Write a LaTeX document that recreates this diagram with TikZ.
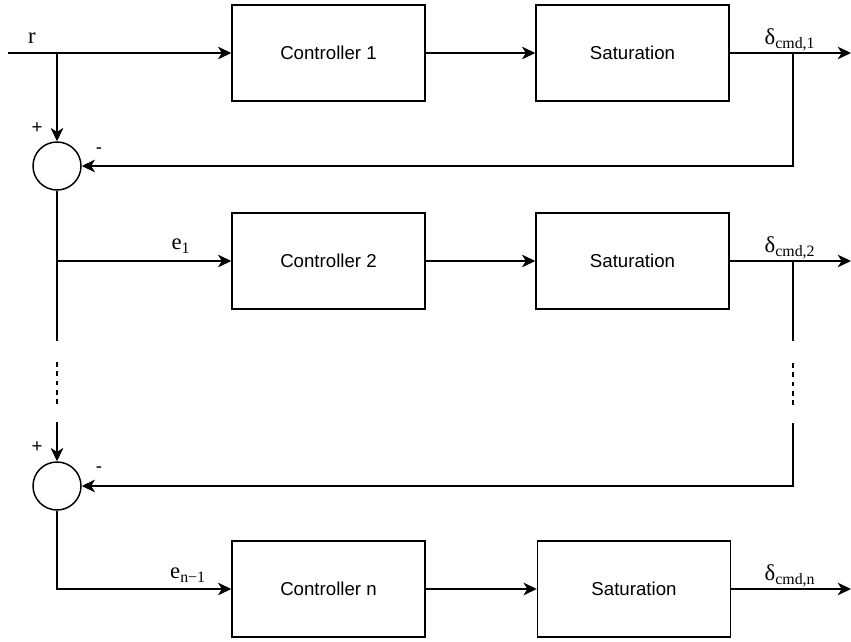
\documentclass[tikz,border=0pt]{standalone}
\usepackage{fontspec}
\setmainfont{Liberation Sans}
\newfontfamily\lblfont{Liberation Serif}
\usetikzlibrary{arrows.meta}

\begin{document}
\begin{tikzpicture}[x=0.75pt,y=-0.75pt,line width=1.1pt,
		>={Stealth[length=10pt,width=9.5pt,inset=3pt]},font=\fontsize{14}{16}\selectfont]
		\tikzset{block/.style={draw,minimum width=144.75pt,minimum height=72pt,inner sep=0pt},
			sum/.style={draw,circle,minimum size=36pt,inner sep=0pt},
			sig/.style={font=\lblfont\fontsize{17}{19}\selectfont,inner sep=1pt},
			sgn/.style={font=\fontsize{14}{16}\selectfont,inner sep=0pt},
			gap/.style={dash pattern=on 3.5pt off 3.5pt}}
		\useasboundingbox (0,0) rectangle (851,642);
		
		\node[block] (ctrlA) at (328.5,53) {Controller 1};
		\node[block] (satA)  at (632.5,53) {Saturation};
		\node[block] (ctrlB) at (328.5,261) {Controller 2};
		\node[block] (satB)  at (632.5,261) {Saturation};
		\node[block] (ctrlN) at (328.5,589) {Controller n};
		\node[block] (satN)  at (634,589) {Saturation};
		\node[sum] (sumA) at (57,166) {};
		\node[sum] (sumB) at (57,486) {};
		
		\coordinate (rin) at (8,53);
		\coordinate (brA) at (57,53);
		\coordinate (fbA) at (793,53);
		\coordinate (outA) at (851,53);
		\coordinate (brB) at (57,261);
		\coordinate (fbB) at (793,261);
		\coordinate (outB) at (851,261);
		\coordinate (outN) at (851,589);
		\coordinate (lA) at (57,341);
		\coordinate (lB) at (57,362);
		\coordinate (lC) at (57,406);
		\coordinate (lD) at (57,422);
		\coordinate (rA) at (793,341);
		\coordinate (rB) at (793,363);
		\coordinate (rC) at (793,407);
		\coordinate (rD) at (793,423);
		
		% top row
		\draw[->] (rin) -- (ctrlA);
		\draw[->] (ctrlA) -- (satA);
		\draw[->] (satA) -- (outA);
		\draw[->] (brA) -- (sumA);
		\draw[->] (fbA) |- (sumA);
		\node[sig] at (32,38) {r};
		\node[sig] at (790,40) {δ\textsubscript{cmd,1}};
		\node[sgn] at (37,128) {+};
		\node[sgn] at (99,151) {-};
		
		% second row
		\draw (sumA) -- (lA);
		\draw[->] (brB) -- (ctrlB);
		\draw[->] (ctrlB) -- (satB);
		\draw[->] (satB) -- (outB);
		\draw (fbB) -- (rA);
		\node[sig] at (181,246) {e\textsubscript{1}};
		\node[sig] at (790,248) {δ\textsubscript{cmd,2}};
		
		% dotted part
		\draw[gap] (lB) -- (lC);
		\draw[gap] (rB) -- (rC);
		\draw[->] (lD) -- (sumB);
		\draw[->] (rD) |- (sumB);
		\node[sgn] at (37,447) {+};
		\node[sgn] at (99,470) {-};
		
		% last row
		\draw[->] (sumB) |- (ctrlN);
		\draw[->] (ctrlN) -- (satN);
		\draw[->] (satN) -- (outN);
		\node[sig] at (188,575) {e\textsubscript{n\textminus1}};
		\node[sig] at (790,576) {δ\textsubscript{cmd,n}};
\end{tikzpicture}
\end{document}
